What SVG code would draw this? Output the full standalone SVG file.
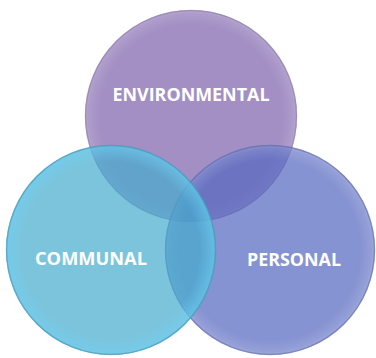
<svg xmlns="http://www.w3.org/2000/svg" width="376" height="358" viewBox="0 0 376 358">
<style>
.lbl{font-family:"Open Sans","Liberation Sans",sans-serif;font-weight:bold;font-size:18px;fill:#ffffff;text-anchor:middle}
.edge{fill:none;stroke-width:1.5;stroke-opacity:0.45}
</style>
<defs>
<radialGradient id="bevel" cx="0.5" cy="0.5" r="0.5">
<stop offset="0.86" stop-color="#ffffff" stop-opacity="0"/>
<stop offset="0.97" stop-color="#ffffff" stop-opacity="0.12"/>
<stop offset="1" stop-color="#ffffff" stop-opacity="0.25"/>
</radialGradient>
<radialGradient id="bevelBlue" cx="0.5" cy="0.5" r="0.5">
<stop offset="0.84" stop-color="#6fd0f4" stop-opacity="0"/>
<stop offset="0.96" stop-color="#6fd0f4" stop-opacity="0.45"/>
<stop offset="1" stop-color="#6fd0f4" stop-opacity="0.6"/>
</radialGradient>
</defs>
<rect width="376" height="358" fill="#ffffff"/>
<g id="environmental">
<circle cx="191" cy="116" r="106" fill="#a38fc4"/>
<circle cx="191" cy="116" r="106" fill="url(#bevel)"/>
<circle cx="191" cy="116" r="105.5" class="edge" stroke="#7a6a9a"/>
<text class="lbl" x="191" y="101" textLength="157" lengthAdjust="spacingAndGlyphs">ENVIRONMENTAL</text>
</g>
<g id="personal">
<circle cx="270" cy="250" r="105" fill="#5869c0" fill-opacity="0.72"/>
<circle cx="270" cy="250" r="105" fill="url(#bevel)"/>
<circle cx="270" cy="250" r="104.5" class="edge" stroke="#4a559a"/>
<text class="lbl" x="294" y="266" textLength="94" lengthAdjust="spacingAndGlyphs">PERSONAL</text>
</g>
<g id="communal">
<circle cx="111" cy="250" r="105" fill="#44abcd" fill-opacity="0.7"/>
<circle cx="111" cy="250" r="105" fill="url(#bevelBlue)"/>
<circle cx="111" cy="250" r="104.5" class="edge" stroke="#3a7f9a"/>
<text class="lbl" x="91" y="265" textLength="112" lengthAdjust="spacingAndGlyphs">COMMUNAL</text>
</g>
</svg>
